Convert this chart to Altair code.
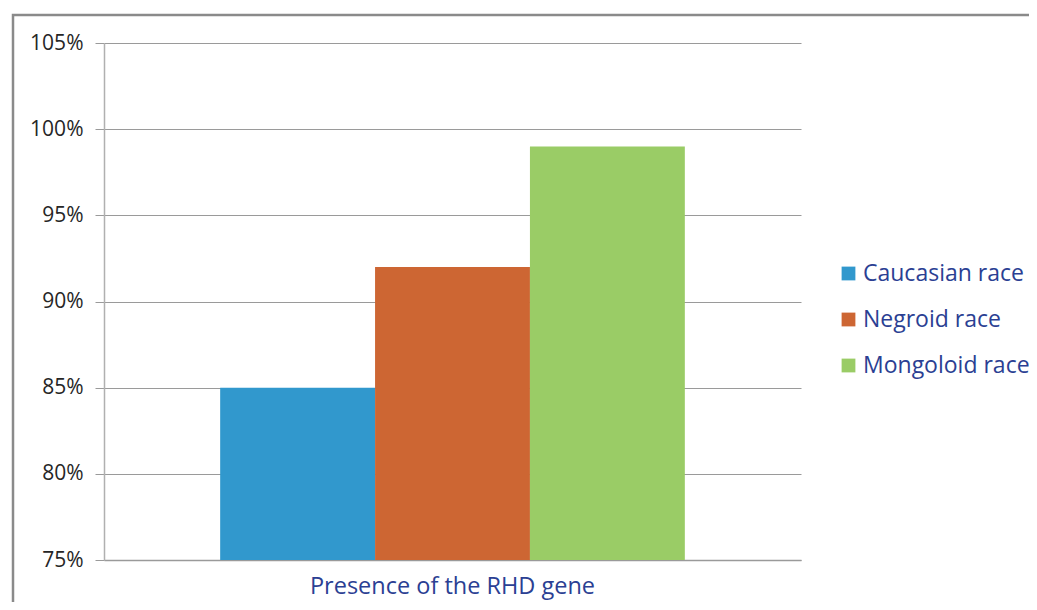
import altair as alt
import pandas as pd

races = ["Caucasian race", "Negroid race", "Mongoloid race"]
values = [85, 92, 99]
colors = ["#3198CD", "#CD6633", "#9ACC66"]
category = "Presence of the RHD gene"
y_ticks = [75, 80, 85, 90, 95, 100, 105]

df = pd.DataFrame({"cat": [category] * 3, "race": races, "value": values, "base": [75] * 3})

font = "Open Sans"
blue_text = "#2B3F93"

bars = alt.Chart(df).mark_bar().encode(
    x=alt.X("cat:N", title=None,
            scale=alt.Scale(paddingInner=0, paddingOuter=0.25),
            axis=alt.Axis(labelAngle=0, labelFontSize=23.5, labelColor=blue_text, labelFont=font,
                          labelPadding=14, labelLimit=0, ticks=False, domainColor="#9a9a9a",
                          domainWidth=1.5)),
    xOffset=alt.XOffset("race:N", sort=races, scale=alt.Scale(paddingInner=0, paddingOuter=0)),
    y=alt.Y("value:Q", title=None,
            scale=alt.Scale(domain=[75, 105], zero=False, nice=False),
            axis=alt.Axis(values=y_ticks, labelExpr="datum.value + '%'", labelFontSize=21,
                          labelColor="#262626", labelFont=font, tickSize=9, tickColor="#9a9a9a",
                          labelPadding=12, gridColor="#9a9a9a", gridWidth=1, domainColor="#b0b0b0",
                          domainWidth=1.5)),
    y2=alt.Y2("base:Q"),
    color=alt.Color("race:N", sort=races, scale=alt.Scale(domain=races, range=colors),
                    legend=alt.Legend(title=None, orient="none", legendX=733, legendY=219,
                                      symbolType="square", symbolSize=190, symbolStrokeWidth=0,
                                      labelFontSize=23, labelColor=blue_text, labelFont=font,
                                      rowPadding=22, labelOffset=3, labelLimit=0)),
)

frame = alt.Chart(pd.DataFrame({"a": [0]})).mark_rect(
    fill=None, stroke="#8a8a8a", strokeWidth=2.5, clip=False
).encode(
    x=alt.value(-91), x2=alt.value(940), y=alt.value(-28), y2=alt.value(580)
)

chart = alt.layer(frame, bars).properties(
    width=697, height=517,
    padding={"left": 96, "top": 35, "right": 228, "bottom": 42},
    autosize=alt.AutoSizeParams(type="none"),
).configure_view(stroke=None).configure_axis(grid=True).configure_axisX(grid=False)

chart.save("out.html", embed_options={"renderer": "svg", "actions": False})
